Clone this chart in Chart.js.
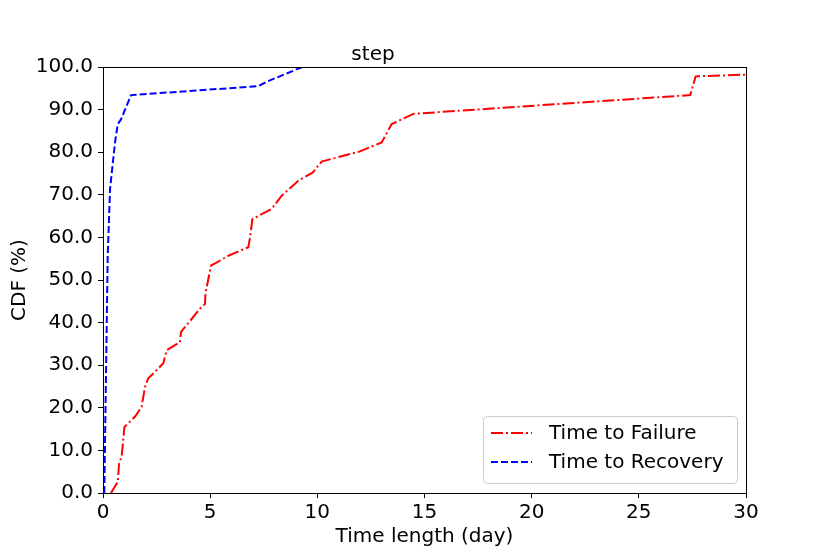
<!DOCTYPE html>
<html>
<head>
<meta charset="utf-8">
<script src="https://cdn.jsdelivr.net/npm/chart.js@4/dist/chart.umd.min.js"></script>
<style>
  html, body { margin: 0; padding: 0; background: #fff; }
  #wrap { width: 830px; height: 554px; }
</style>
</head>
<body>
<div id="wrap"><canvas id="cdfChart" width="830" height="554"></canvas></div>
<script>
// values
var failureDays = [0.37, 0.69, 0.75, 0.87, 1.0, 1.49, 1.8, 1.96, 2.11, 2.81, 2.97, 3.59, 3.64, 4.53, 4.76, 4.78, 5.04, 5.23, 5.85, 6.78, 6.86, 6.97, 7.87, 8.34, 9.11, 9.78, 10.2, 11.99, 13.0, 13.47, 14.48, 27.4, 27.65, 30.0];
var failureCdf = [0.0, 2.6, 7.0, 8.5, 15.5, 17.9, 20.2, 24.9, 26.9, 30.4, 33.5, 35.4, 37.8, 43.3, 44.4, 46.8, 53.4, 53.9, 55.7, 57.7, 60.0, 64.3, 66.7, 69.8, 73.3, 75.2, 77.8, 80.2, 82.3, 86.6, 89.0, 93.4, 97.8, 98.2];

var recoveryDays = [0.06, 0.22, 0.33, 0.56, 0.69, 0.84, 1.31, 7.25, 7.71, 9.3];
var recoveryCdf = [0.0, 55.7, 71.4, 82.3, 86.6, 87.7, 93.4, 95.5, 96.7, 100.0];

var xTicks = [0, 5, 10, 15, 20, 25, 30];
var yTicks = [0, 10, 20, 30, 40, 50, 60, 70, 80, 90, 100];

var FONT = 'DejaVu Sans';

function toPoints(xs, ys) {
    var pts = [];
    for (var i = 0; i < xs.length; i++) {
        pts.push({ x: xs[i], y: ys[i] });
    }
    return pts;
}

// black frame round the plot area
var framePlugin = {
    id: 'frame',
    afterDraw: function(chart) {
        var a = chart.chartArea;
        var ctx = chart.ctx;
        ctx.save();
        ctx.strokeStyle = '#000';
        ctx.lineWidth = 1;
        ctx.strokeRect(Math.round(a.left) + 0.5, Math.round(a.top) + 0.5, Math.round(a.right - a.left), Math.round(a.bottom - a.top));
        ctx.restore();
    }
};

// legend inside the plot, lower right
var innerLegend = {
    id: 'innerLegend',
    afterDraw: function(chart) {
        var a = chart.chartArea;
        var ctx = chart.ctx;
        var boxW = 254, boxH = 67;
        var x0 = a.right - 9 - boxW;
        var y0 = a.bottom - 10 - boxH;
        ctx.save();
        ctx.beginPath();
        if (ctx.roundRect) {
            ctx.roundRect(x0 + 0.5, y0 + 0.5, boxW, boxH, 4);
        } else {
            ctx.rect(x0 + 0.5, y0 + 0.5, boxW, boxH);
        }
        ctx.fillStyle = 'rgba(255,255,255,0.8)';
        ctx.fill();
        ctx.strokeStyle = '#cccccc';
        ctx.lineWidth = 1;
        ctx.stroke();

        ctx.font = '20px "' + FONT + '"';
        ctx.textBaseline = 'middle';
        ctx.fillStyle = '#000';
        chart.data.datasets.forEach(function(ds, i) {
            var cy = y0 + 17 + i * 29;
            ctx.beginPath();
            ctx.setLineDash(ds.borderDash || []);
            ctx.strokeStyle = ds.borderColor;
            ctx.lineWidth = ds.borderWidth;
            ctx.moveTo(x0 + 8, cy);
            ctx.lineTo(x0 + 49, cy);
            ctx.stroke();
            ctx.setLineDash([]);
            ctx.fillText(ds.label, x0 + 66, cy + 1);
        });
        ctx.restore();
    }
};

var ctx = document.getElementById('cdfChart').getContext('2d');
var chart = new Chart(ctx, {
    type: 'line',
    data: {
        datasets: [
            {
                label: 'Time to Failure',
                data: toPoints(failureDays, failureCdf),
                borderColor: '#ff0000',
                borderWidth: 2,
                borderDash: [12, 3, 2, 3],
                pointRadius: 0,
                fill: false,
                tension: 0
            },
            {
                label: 'Time to Recovery',
                data: toPoints(recoveryDays, recoveryCdf),
                borderColor: '#0000ff',
                borderWidth: 2,
                borderDash: [7, 3],
                pointRadius: 0,
                fill: false,
                tension: 0
            }
        ]
    },
    options: {
        responsive: false,
        animation: false,
        devicePixelRatio: 1,
        layout: { padding: { left: 0, right: 84, top: 0, bottom: 0 } },
        plugins: {
            legend: { display: false },
            tooltip: { enabled: false },
            title: {
                display: true,
                text: 'step',
                color: '#000',
                font: { family: FONT, size: 20, weight: 'normal' },
                padding: { top: 43, bottom: 0 }
            }
        },
        scales: {
            x: {
                type: 'linear',
                min: 0,
                max: 30,
                afterBuildTicks: function(scale) {
                    scale.ticks = xTicks.map(function(v) { return { value: v }; });
                },
                afterFit: function(scale) { scale.height = 61; },
                grid: { drawOnChartArea: false, tickLength: 5, color: '#000' },
                border: { color: '#000', width: 1 },
                ticks: {
                    color: '#000',
                    padding: 3,
                    maxRotation: 0,
                    font: { family: FONT, size: 20 }
                },
                title: {
                    display: true,
                    text: 'Time length (day)',
                    color: '#000',
                    font: { family: FONT, size: 20 },
                    padding: { top: 0, bottom: 5 }
                }
            },
            y: {
                min: 0,
                max: 100,
                afterBuildTicks: function(scale) {
                    scale.ticks = yTicks.map(function(v) { return { value: v }; });
                },
                afterFit: function(scale) { scale.width = 103; },
                grid: { drawOnChartArea: false, tickLength: 5, color: '#000' },
                border: { color: '#000', width: 1 },
                ticks: {
                    color: '#000',
                    padding: 5,
                    font: { family: FONT, size: 20 },
                    callback: function(v) { return v.toFixed(1); }
                },
                title: {
                    display: true,
                    text: 'CDF (%)',
                    color: '#000',
                    font: { family: FONT, size: 20 },
                    padding: { top: 8, bottom: 0 }
                }
            }
        }
    },
    plugins: [framePlugin, innerLegend]
});
</script>
</body>
</html>
